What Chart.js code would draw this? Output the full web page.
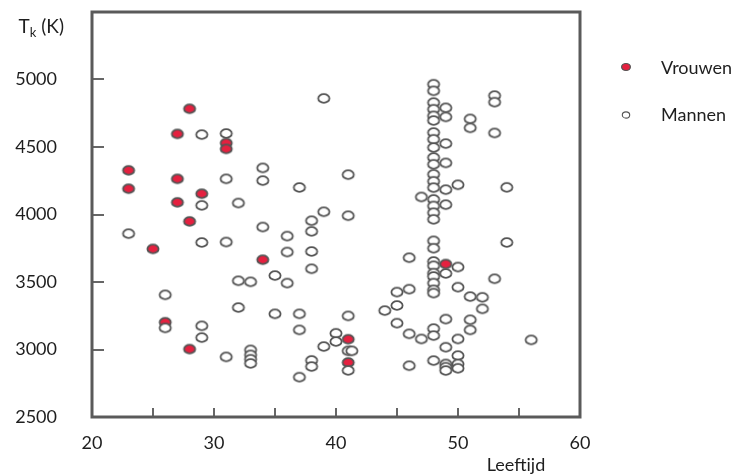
<!DOCTYPE html>
<html><head><meta charset="utf-8">
<script src="https://cdn.jsdelivr.net/npm/chart.js@4/dist/chart.umd.min.js"></script>
<style>html,body{margin:0;padding:0;background:#fff;}#wrap{position:relative;width:741px;height:475px;}</style>
</head><body><div id="wrap"><canvas id="c" width="741" height="475"></canvas></div>
<script>
// ---- data ----
const xTickLabels = [20, 30, 40, 50, 60];
const xMinorTicks = [25, 35, 45, 55];
const yTickLabels = [2500, 3000, 3500, 4000, 4500, 5000];

const vrouwenLeeftijd = [23, 23, 25, 26, 27, 27, 27, 28, 28, 28, 29, 31, 31, 34, 41, 41, 49];
const vrouwenTk =       [4327, 4191, 3745, 3202, 4597, 4264, 4090, 4783, 3949, 3003, 4154, 4530, 4486, 3665, 3076, 2904, 3633];

const mannenLeeftijd = [
  23,
  26, 26,
  29, 29, 29, 29, 29,
  31, 31, 31, 31,
  32, 32, 32,
  33, 33, 33, 33, 33,
  34, 34, 34,
  35, 35,
  36, 36, 36,
  37, 37, 37, 37,
  38, 38, 38, 38, 38, 38,
  39, 39, 39,
  40, 40,
  41, 41, 41, 41, 41.3, 41,
  44,
  45, 45, 45,
  46, 46, 46, 46,
  47, 47,
  48, 48, 48, 48, 48, 48, 48, 48, 48, 48, 48, 48, 48, 48, 48, 48, 48, 48, 48, 48, 48, 48, 48, 48, 48, 48, 48, 48, 48, 48,
  49, 49, 49, 49, 49, 49, 49, 49, 49, 49, 49, 49,
  50, 50, 50, 50, 50, 50, 50,
  51, 51, 51, 51, 51,
  52, 52,
  53, 53, 53, 53,
  54, 54,
  56
];
const mannenTk = [
  3858,
  3405, 3160,
  4592, 4068, 3793, 3175, 3088,
  4600, 4264, 3796, 2945,
  4085, 3509, 3311,
  3501, 2997, 2960, 2928, 2897,
  4345, 4251, 3907,
  3548, 3264,
  3840, 3722, 3492,
  4200, 3264, 3145, 2795,
  3954, 3875, 3726, 3598, 2919, 2874,
  4860, 4020, 3022,
  3120, 3059,
  4295, 3991, 3249, 2990, 2990, 2845,
  3288,
  3425, 3326, 3195,
  3680, 3447, 3116, 2880,
  4130, 3078,
  4965, 4916, 4829, 4780, 4731, 4696, 4607, 4557, 4496, 4422, 4372, 4298, 4246, 4199, 4112, 4063, 4013, 3964, 3805, 3750, 3652, 3620, 3566, 3541, 3492, 3442, 3418, 3155, 3103, 2918,
  4790, 4723, 4525, 4382, 4184, 4073, 3563, 3225, 3017, 2893, 2869, 2844,
  4220, 3611, 3462, 3078, 2955, 2893, 2861,
  4708, 4642, 3392, 3220, 3145,
  3387, 3301,
  4881, 4832, 4604, 3524,
  4201, 3793,
  3071
];

// ---- styles ----
const RED = '#e5203f';
const STROKE = '#555555';
const TEXT = '#1e1e1e';
const FONT = 'Lato, "Open Sans", sans-serif';

function ellipseImg(w, h, rx, ry, fill, stroke, lw) {
  const c = document.createElement('canvas');
  c.width = w; c.height = h;
  const g = c.getContext('2d');
  g.beginPath();
  g.ellipse(w / 2, h / 2, rx, ry, 0, 0, Math.PI * 2);
  g.fillStyle = fill; g.fill();
  g.lineWidth = lw; g.strokeStyle = stroke; g.stroke();
  return c;
}
const redPt = ellipseImg(16, 13, 5.6, 4.3, RED, STROKE, 1.8);
const openPt = ellipseImg(16, 13, 5.6, 4.3, '#ffffff', STROKE, 1.8);
const redLeg = ellipseImg(12, 10, 4.4, 3.5, RED, STROKE, 1.2);
const openLeg = ellipseImg(12, 10, 3.7, 3.1, '#ffffff', STROKE, 1.1);

const framePlugin = {
  id: 'frame',
  afterDatasetsDraw(chart) {
    const {ctx, chartArea: a, scales} = chart;
    ctx.save();
    ctx.strokeStyle = '#666666';
    ctx.lineWidth = 2;
    yTickLabels.forEach(v => {
      const y = Math.round(scales.y.getPixelForValue(v));
      ctx.beginPath(); ctx.moveTo(a.left, y); ctx.lineTo(a.left + 12, y); ctx.stroke();
    });
    xTickLabels.concat(xMinorTicks).forEach(v => {
      const x = Math.round(scales.x.getPixelForValue(v));
      ctx.beginPath(); ctx.moveTo(x, a.bottom); ctx.lineTo(x, a.bottom - 9); ctx.stroke();
    });
    ctx.strokeStyle = '#5a5a5a';
    ctx.lineWidth = 3;
    ctx.strokeRect(a.left, a.top, a.right - a.left, a.bottom - a.top);
    ctx.fillStyle = TEXT;
    ctx.textBaseline = 'alphabetic';
    ctx.font = '19px ' + FONT;
    const tW = ctx.measureText('T').width;
    ctx.font = '13px ' + FONT;
    const kW = ctx.measureText('k').width;
    ctx.font = '19px ' + FONT;
    const rest = ' (K)';
    const rW = ctx.measureText(rest).width;
    let x0 = 64 - (tW + kW + rW);
    ctx.textAlign = 'left';
    ctx.fillText('T', x0, 33);
    ctx.font = '13px ' + FONT;
    ctx.fillText('k', x0 + tW, 37);
    ctx.font = '19px ' + FONT;
    ctx.fillText(rest, x0 + tW + kW, 33);
    ctx.font = '18px ' + FONT;
    ctx.textAlign = 'center';
    ctx.textBaseline = 'middle';
    ctx.fillText('Leeftijd', 516, 465);
    ctx.drawImage(redLeg, 626 - 6, 67 - 5);
    ctx.drawImage(openLeg, 626 - 6, 115 - 5);
    ctx.textAlign = 'left';
    ctx.fillText('Vrouwen', 661, 68);
    ctx.fillText('Mannen', 661, 115);
    ctx.restore();
  }
};

const toPts = (xs, ys) => xs.map((x, i) => ({x: x, y: ys[i]}));

new Chart(document.getElementById('c'), {
  type: 'scatter',
  data: {
    datasets: [
      {label: 'Vrouwen', data: toPts(vrouwenLeeftijd, vrouwenTk), pointStyle: redPt, pointRadius: 6, order: 1},
      {label: 'Mannen', data: toPts(mannenLeeftijd, mannenTk), pointStyle: openPt, pointRadius: 6, order: 0}
    ]
  },
  options: {
    responsive: false,
    animation: false,
    devicePixelRatio: 1,
    layout: {padding: {left: 0, top: 12, right: 161, bottom: 0}},
    plugins: {legend: {display: false}, tooltip: {enabled: false}},
    scales: {
      x: {
        type: 'linear', min: 20, max: 60,
        grid: {display: false}, border: {display: false},
        afterBuildTicks: s => { s.ticks = xTickLabels.map(v => ({value: v})); },
        afterFit: s => { s.height = 58; s.paddingLeft = 0; s.paddingRight = 0; },
        ticks: {color: TEXT, font: {family: FONT, size: 18}, padding: 7, maxRotation: 0,
                callback: v => String(v)}
      },
      y: {
        type: 'linear', min: 2500, max: 5500,
        grid: {display: false}, border: {display: false},
        afterBuildTicks: s => { s.ticks = yTickLabels.map(v => ({value: v})); },
        afterFit: s => { s.width = 92; s.paddingTop = 0; s.paddingBottom = 0; },
        ticks: {color: TEXT, font: {family: FONT, size: 18}, padding: 27,
                callback: v => String(v)}
      }
    }
  },
  plugins: [framePlugin]
});
</script>
</body></html>
